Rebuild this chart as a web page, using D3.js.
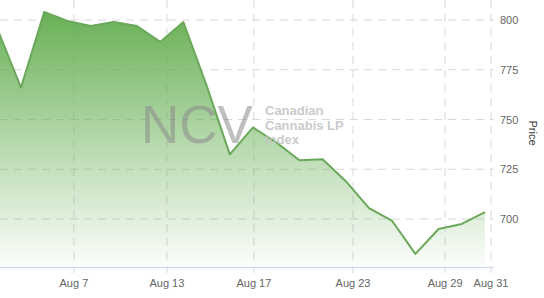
<!doctype html>
<html>
<head>
<meta charset="utf-8">
<title>NCV price</title>
<script src="https://d3js.org/d3.v7.min.js"></script>
<style>
  body { margin: 0; background: #fff; }
  text { font-family: "Liberation Sans", Arial, sans-serif; }
</style>
</head>
<body>
<div id="chart"></div>
<script>
// trading days (Highcharts-style ordinal axis: weekends skipped)
const dates = ["Jul 31", "Aug 1", "Aug 2", "Aug 3", "Aug 7", "Aug 8", "Aug 9", "Aug 10",
               "Aug 13", "Aug 14", "Aug 15", "Aug 16", "Aug 17", "Aug 20", "Aug 21", "Aug 22",
               "Aug 23", "Aug 24", "Aug 27", "Aug 28", "Aug 29", "Aug 30"];
const prices = [795, 766, 804, 799.5, 797, 799, 797, 789,
                799, 767, 732.5, 746, 738.5, 729.5, 730, 719,
                705.5, 699, 682.5, 695, 697.5, 703.5];

const tickLabels = ["Aug 7", "Aug 13", "Aug 17", "Aug 23", "Aug 29", "Aug 31"];
const tickIndex = [3.28, 7.29, 11.04, 15.31, 19.28, 21.26];   // ordinal positions on the axis
const priceTicks = [700, 725, 750, 775, 800];
const watermarkLines = ["Canadian", "Cannabis LP", "Index"];

const w = 544, h = 298;
const plotRight = 494, plotBottom = 267;

const svg = d3.select("#chart").append("svg")
  .attr("width", w)
  .attr("height", h);

const x = d3.scaleLinear()
  .domain([0, dates.length - 1])
  .range([-2.2, 485]);

const y = d3.scaleLinear()
  .domain([700, 800])
  .range([219, 20]);

// gradient for the area
const defs = svg.append("defs");
const grad = defs.append("linearGradient")
  .attr("id", "fillGrad")
  .attr("gradientUnits", "userSpaceOnUse")
  .attr("x1", 0).attr("x2", 0)
  .attr("y1", y(d3.max(prices))).attr("y2", plotBottom);
grad.append("stop").attr("offset", 0).attr("stop-color", "#69b056").attr("stop-opacity", 1);
grad.append("stop").attr("offset", 0.55).attr("stop-color", "#69b056").attr("stop-opacity", 0.45);
grad.append("stop").attr("offset", 1).attr("stop-color", "#69b056").attr("stop-opacity", 0.02);

defs.append("clipPath").attr("id", "plotClip")
  .append("rect")
  .attr("x", 0).attr("y", 0)
  .attr("width", plotRight).attr("height", plotBottom);

// horizontal grid
svg.append("g")
  .selectAll("line")
  .data(priceTicks)
  .enter()
  .append("line")
  .attr("x1", 0)
  .attr("x2", plotRight)
  .attr("y1", d => y(d))
  .attr("y2", d => y(d))
  .attr("stroke", "#d8d8d8")
  .attr("stroke-dasharray", "8,6");

// vertical grid
svg.append("g")
  .selectAll("line")
  .data(tickIndex)
  .enter()
  .append("line")
  .attr("x1", d => x(d))
  .attr("x2", d => x(d))
  .attr("y1", 0)
  .attr("y2", plotBottom)
  .attr("stroke", "#d8d8d8")
  .attr("stroke-dasharray", "8,6");

const series = svg.append("g").attr("clip-path", "url(#plotClip)");

const area = d3.area()
  .x((d, i) => x(i))
  .y0(plotBottom)
  .y1(d => y(d));

const line = d3.line()
  .x((d, i) => x(i))
  .y(d => y(d));

series.append("path")
  .datum(prices)
  .attr("d", area)
  .attr("fill", "url(#fillGrad)");

// watermark
const wm = svg.append("g");
wm.append("text")
  .attr("x", 141)
  .attr("y", 143)
  .attr("font-size", 53)
  .attr("fill", "#8a8a8a")
  .attr("fill-opacity", 0.55)
  .text("NCV");
wm.selectAll("text.sub")
  .data(watermarkLines)
  .enter()
  .append("text")
  .attr("class", "sub")
  .attr("x", 265)
  .attr("y", (d, i) => 115 + i * 14.5)
  .attr("font-size", 13)
  .attr("font-weight", "bold")
  .attr("fill", "#c4c4c4")
  .attr("fill-opacity", 0.9)
  .text(d => d);

series.append("path")
  .datum(prices)
  .attr("d", line)
  .attr("fill", "none")
  .attr("stroke", "#6aa85a")
  .attr("stroke-width", 2)
  .attr("stroke-linejoin", "round");

// x axis line + ticks + labels
svg.append("line")
  .attr("x1", 0).attr("x2", plotRight)
  .attr("y1", plotBottom + 0.5).attr("y2", plotBottom + 0.5)
  .attr("stroke", "#ccd6eb");

svg.append("g")
  .selectAll("line")
  .data(tickIndex)
  .enter()
  .append("line")
  .attr("x1", d => x(d)).attr("x2", d => x(d))
  .attr("y1", plotBottom).attr("y2", plotBottom + 6)
  .attr("stroke", "#ccd6eb");

svg.append("g")
  .selectAll("text")
  .data(tickIndex)
  .enter()
  .append("text")
  .attr("x", d => x(d))
  .attr("y", 287)
  .attr("text-anchor", "middle")
  .attr("font-size", 11)
  .attr("fill", "#666")
  .text((d, i) => tickLabels[i]);

// y labels on the right
svg.append("g")
  .selectAll("text")
  .data(priceTicks)
  .enter()
  .append("text")
  .attr("x", 500)
  .attr("y", d => y(d) + 4)
  .attr("font-size", 11)
  .attr("fill", "#666")
  .text(d => d);

svg.append("text")
  .attr("transform", "translate(529,133) rotate(90)")
  .attr("text-anchor", "middle")
  .attr("font-size", 11)
  .attr("fill", "#333")
  .text("Price");
</script>
</body>
</html>
